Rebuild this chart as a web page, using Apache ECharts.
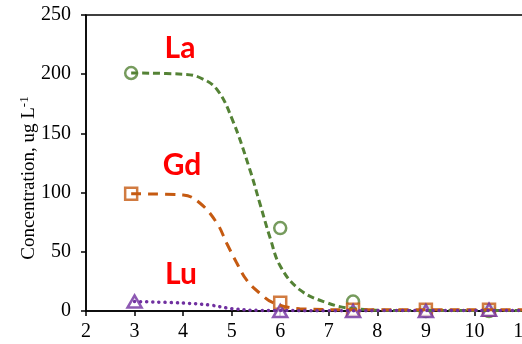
<!DOCTYPE html>
<html><head><meta charset="utf-8">
<script src="https://cdn.jsdelivr.net/npm/echarts@6/dist/echarts.min.js"></script>
<style>html,body{margin:0;padding:0;background:#fff}#c{width:522px;height:344px}</style>
</head><body><div id="c"></div>
<script>
// measured points
const laX = [2.93, 6, 7.5, 9, 10.3];
const laY = [201, 70, 8, 0, 0];
const gdX = [2.93, 6, 7.5, 9, 10.3];
const gdY = [99, 7, 1, 1, 1];
const luX = [3, 6, 7.5, 9, 10.3];
const luY = [8, 0, 0, 0, 1];
// fitted curves
const laFitX = [2.93, 4, 4.35, 4.7, 5.02, 5.37, 5.58, 5.79, 6, 6.4, 6.96, 7.5, 8.5, 11];
const laFitY = [201, 200, 197, 187, 161, 120, 91, 62, 38, 18, 7, 2, 0.5, 0.5];
const gdFitX = [2.93, 4, 4.35, 4.7, 4.9, 5.1, 5.31, 5.58, 5.85, 6.4, 7.5, 11];
const gdFitY = [99, 98, 91, 74, 57, 41, 26, 15, 7, 2, 1, 1];
const luFitX = [3, 4, 4.55, 5, 5.6, 7, 11];
const luFitY = [8, 6.7, 5, 2, 0.5, 0.3, 0.5];
const xTicks = [2, 3, 4, 5, 6, 7, 8, 9, 10, 11];
const yTicks = [0, 50, 100, 150, 200, 250];
const names = ['La', 'Gd', 'Lu'];

const zip = (a, b) => a.map((v, i) => [v, b[i]]);
const green = '#548235', orange = '#C55A11', purple = '#7030A0';
const chart = echarts.init(document.getElementById('c'));
chart.setOption({
  animation: false,
  grid: {left: 86, top: 15, right: -1, bottom: 33, show: true, borderColor: '#000', borderWidth: 1.5,
    containLabel: false, outerBoundsMode: 'none'},
  xAxis: {type: 'value', min: xTicks[0], max: xTicks[xTicks.length - 1], interval: 1,
    axisLine: {lineStyle: {color: '#000', width: 1.5}},
    axisTick: {show: true, length: 5, lineStyle: {color: '#000', width: 1.5}},
    axisLabel: {color: '#000', fontFamily: 'Liberation Serif', fontSize: 20, margin: 11},
    splitLine: {show: false}},
  yAxis: {type: 'value', min: yTicks[0], max: yTicks[yTicks.length - 1], interval: 50,
    axisLine: {show: true, lineStyle: {color: '#000', width: 1.5}},
    axisTick: {show: true, length: 5, lineStyle: {color: '#000', width: 1.5}},
    axisLabel: {color: '#000', fontFamily: 'Liberation Serif', fontSize: 20, margin: 15},
    splitLine: {show: false}},
  graphic: [
    {type: 'text', x: 29, y: 178, rotation: Math.PI / 2,
      style: {text: 'Concentration, ug L{s|-1}', fill: '#000', font: '19px "Liberation Serif"',
        align: 'center', verticalAlign: 'middle',
        rich: {s: {fontSize: 13, fontFamily: 'Liberation Serif', verticalAlign: 'top', padding: [0, 0, 9, 0]}}}},
    {type: 'text', x: 180, y: 48, style: {text: names[0], fill: '#FF0000', font: 'bold 30px Lato', align: 'center', verticalAlign: 'middle'}},
    {type: 'text', x: 182, y: 165, style: {text: names[1], fill: '#FF0000', font: 'bold 30px Lato', align: 'center', verticalAlign: 'middle'}},
    {type: 'text', x: 181, y: 274, style: {text: names[2], fill: '#FF0000', font: 'bold 30px Lato', align: 'center', verticalAlign: 'middle'}}
  ],
  series: [
    {type: 'line', data: zip(laFitX, laFitY), smooth: 0.4, symbol: 'none',
      lineStyle: {color: green, width: 3, type: [7, 4]}},
    {type: 'line', data: zip(gdFitX, gdFitY), smooth: 0.4, symbol: 'none',
      lineStyle: {color: orange, width: 3, type: [10, 7]}},
    {type: 'line', data: zip(luFitX, luFitY), smooth: 0.4, symbol: 'none',
      lineStyle: {color: purple, width: 3.5, type: [0.1, 6], cap: 'round'}},
    {type: 'scatter', data: zip(laX, laY), symbol: 'circle', symbolSize: 12,
      itemStyle: {color: '#fff', borderColor: green, borderWidth: 2.5}},
    {type: 'scatter', data: zip(gdX, gdY), symbol: 'rect', symbolSize: 12,
      itemStyle: {color: '#fff', borderColor: orange, borderWidth: 2.5}},
    {type: 'scatter', data: zip(luX, luY), symbol: 'triangle', symbolSize: [14, 12],
      itemStyle: {color: '#fff', borderColor: purple, borderWidth: 2.5}}
  ]
});
</script></body></html>
